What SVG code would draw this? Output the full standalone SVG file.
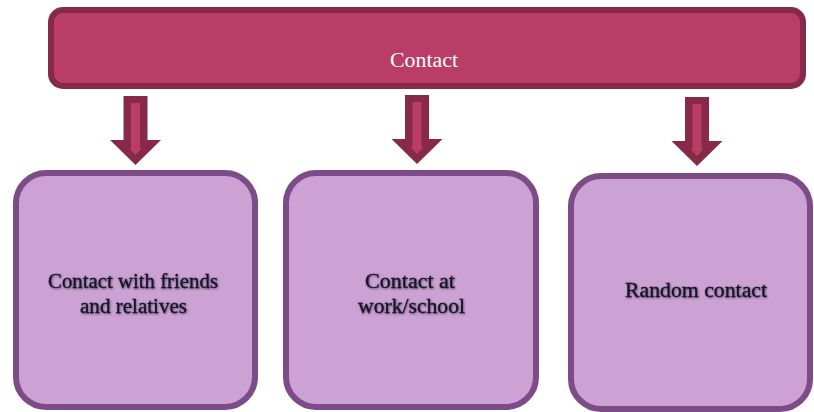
<svg xmlns="http://www.w3.org/2000/svg" width="814" height="412" viewBox="0 0 814 412">
  <defs>
    <filter id="soft" x="-10%" y="-30%" width="120%" height="160%">
      <feDropShadow dx="0.6" dy="0.8" stdDeviation="0.8" flood-color="#000" flood-opacity="0.55"/>
    </filter>
    <!-- block arrow pointing down, centred on x=0, top at y=0 -->
    <g id="down-arrow">
      <polygon points="-12,0 12,0 12,44 25.5,44 0,69 -25.5,44 -12,44" fill="#862a48"/>
      <polygon points="-4.5,7 4.5,7 4.5,52 6.5,52 0,59 -6.5,52 -4.5,52" fill="#b93d66"/>
    </g>
  </defs>
  <style>
    .top { fill: #b93d66; stroke: #862a47; stroke-width: 6; }
    .box { fill: #cca1d3; stroke: #7e4b89; stroke-width: 6; }
    .lbl { font-family: "Liberation Serif", "DejaVu Serif", serif; font-size: 20px; text-anchor: middle; }
    .dark { fill: #14142a; stroke: #14142a; stroke-width: 0.3; filter: url(#soft); }
    .light { fill: #ffffff; }
  </style>

  <g id="contact">
    <rect class="top" x="51" y="10" width="752" height="76" rx="12"/>
    <text class="lbl light" x="424" y="67" textLength="68" lengthAdjust="spacingAndGlyphs">Contact</text>
  </g>

  <g id="connectors">
    <use href="#down-arrow" x="135.5" y="96"/>
    <use href="#down-arrow" x="417" y="95"/>
    <use href="#down-arrow" x="697" y="97"/>
  </g>

  <g id="friends">
    <rect class="box" x="16" y="173" width="239" height="234" rx="30"/>
    <text class="lbl dark" x="133" y="288" textLength="170" lengthAdjust="spacingAndGlyphs">Contact with friends</text>
    <text class="lbl dark" x="133.5" y="313" textLength="107" lengthAdjust="spacingAndGlyphs">and relatives</text>
  </g>

  <g id="work">
    <rect class="box" x="286" y="173" width="250" height="234" rx="30"/>
    <text class="lbl dark" x="410" y="288" textLength="90" lengthAdjust="spacingAndGlyphs">Contact at</text>
    <text class="lbl dark" x="411.5" y="313" textLength="107" lengthAdjust="spacingAndGlyphs">work/school</text>
  </g>

  <g id="random">
    <rect class="box" x="571" y="176" width="239" height="233" rx="30"/>
    <text class="lbl dark" x="696" y="297" textLength="142" lengthAdjust="spacingAndGlyphs">Random contact</text>
  </g>
</svg>
